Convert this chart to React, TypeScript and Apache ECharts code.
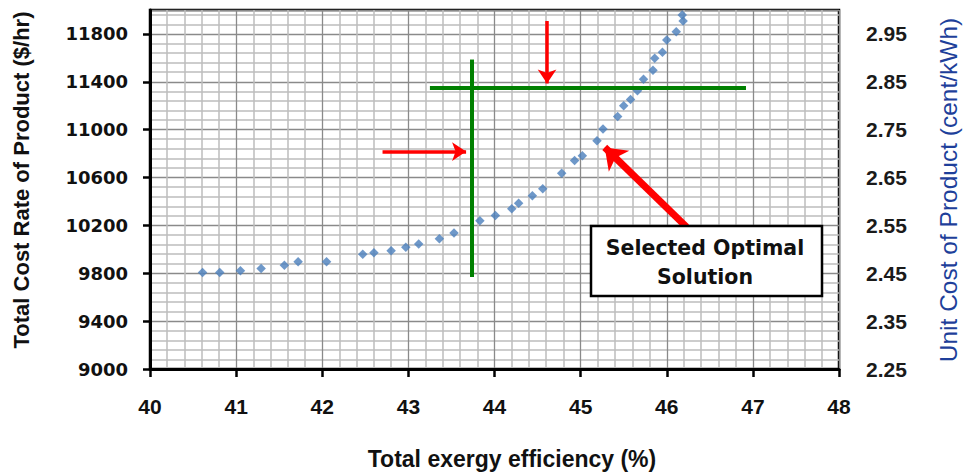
import React, { useEffect, useRef } from "react";
import * as echarts from "echarts";

// Total exergy efficiency (%)
const efficiency = [
  40.61, 40.81, 41.05, 41.29, 41.56, 41.72, 42.05, 42.47, 42.6, 42.8, 42.97,
  43.12, 43.36, 43.53, 43.83, 44.01, 44.2, 44.28, 44.44, 44.56, 44.78, 44.93,
  45.02, 45.19, 45.26, 45.43, 45.5, 45.58, 45.66, 45.73, 45.84, 45.86, 45.95,
  46.0, 46.11, 46.19, 46.18,
];
// Total cost rate of product ($/hr)
const costRate = [
  9806, 9806, 9822, 9839, 9867, 9897, 9897, 9958, 9972, 9989, 10017, 10044,
  10089, 10136, 10239, 10283, 10339, 10386, 10447, 10506, 10636, 10742, 10783,
  10908, 11006, 11111, 11200, 11252, 11325, 11422, 11497, 11597, 11647, 11750,
  11819, 11908, 11958,
];
const xTickLabels = ["40", "41", "42", "43", "44", "45", "46", "47", "48"];
const leftTickLabels = ["9000", "9400", "9800", "10200", "10600", "11000", "11400", "11800"];
const rightTickLabels = ["2.25", "2.35", "2.45", "2.55", "2.65", "2.75", "2.85", "2.95"];

// annotation lines (data coordinates)
const greenVertical = [[43.74, 9769], [43.74, 11586]];
const greenHorizontal = [[43.25, 11347], [46.92, 11347]];
const arrowRight = [[42.7, 10817], [43.67, 10817]];
const arrowDown = [[44.61, 11908], [44.61, 11386]];
const arrowDiagonal = [[46.23, 10186], [45.28, 10852]];

const boxText = ["Selected Optimal", "Solution"];

export default function App() {
  const ref = useRef<HTMLDivElement>(null);
  useEffect(() => {
    if (!ref.current) return;
    const chart = echarts.init(ref.current, null, { renderer: "svg" });
    const data = efficiency.map((x, i) => [x, costRate[i]]);
    const seg = (pts: number[][], color: string, width: number, arrow: boolean, size: number[]) => [
      { coord: pts[0], symbol: "none" },
      {
        coord: pts[1],
        symbol: arrow ? "arrow" : "none",
        symbolSize: size,
        lineStyle: { color, width, type: "solid" },
        itemStyle: { color },
      },
    ];
    chart.setOption({
      animation: false,
      backgroundColor: "#fff",
      grid: {
        left: 150,
        right: 126,
        top: 10,
        bottom: 103,
        show: true,
        borderColor: "#000",
        borderWidth: 2.5,
        backgroundColor: "transparent",
      },
      xAxis: {
        type: "value",
        min: 40,
        max: 48,
        interval: 1,
        axisLine: { show: true, onZero: false, lineStyle: { color: "#000", width: 3 } },
        axisTick: { show: true, length: 8, lineStyle: { color: "#000", width: 2.5 } },
        axisLabel: {
          margin: 27,
          fontFamily: "Liberation Sans, Arial, sans-serif",
          fontWeight: "bold",
          fontSize: 21,
          color: "#111",
          formatter: (_v: number, i: number) => xTickLabels[i] ?? "",
        },
        splitLine: { show: true, lineStyle: { color: "#8a8a8a", width: 1.3 } },
        minorTick: { show: false, splitNumber: 5 },
        minorSplitLine: { show: true, lineStyle: { color: "#bdbdbd", width: 1.5 } },
      },
      yAxis: [
        {
          type: "value",
          min: 9000,
          max: 12000,
          interval: 400,
          axisLine: { show: true, onZero: false, lineStyle: { color: "#000", width: 3 } },
          axisTick: { show: true, length: 7, lineStyle: { color: "#000", width: 2.5 } },
          axisLabel: {
            margin: 22,
            showMaxLabel: false,
            fontFamily: "DejaVu Sans, sans-serif",
            fontWeight: "bold",
            fontSize: 18,
            color: "#111",
            formatter: (_v: number, i: number) => leftTickLabels[i] ?? "",
          },
          splitLine: { show: true, lineStyle: { color: "#8a8a8a", width: 1.3 } },
          minorTick: { show: false, splitNumber: 5 },
          minorSplitLine: { show: true, lineStyle: { color: "#bdbdbd", width: 1.5 } },
        },
        {
          type: "value",
          position: "right",
          min: 9000,
          max: 12000,
          interval: 400,
          axisLine: { show: false },
          axisTick: { show: false },
          splitLine: { show: false },
          axisLabel: {
            margin: 27,
            showMaxLabel: false,
            fontFamily: "Liberation Sans, Arial, sans-serif",
            fontWeight: "bold",
            fontSize: 21,
            color: "#1a1a1a",
            formatter: (_v: number, i: number) => rightTickLabels[i] ?? "",
          },
        },
      ],
      series: [
        {
          type: "scatter",
          data,
          symbol: "diamond",
          symbolSize: 9.5,
          itemStyle: { color: "#4a7ebb" },
          z: 3,
          markLine: {
            silent: true,
            animation: false,
            label: { show: false },
            symbol: ["none", "none"],
            data: [
              seg(greenVertical, "#008000", 4, false, [0, 0]),
              seg(greenHorizontal, "#008000", 4, false, [0, 0]),
              seg(arrowRight, "#ff0000", 3.5, true, [14, 14]),
              seg(arrowDown, "#ff0000", 3.5, true, [14, 14]),
              seg(arrowDiagonal, "#ff0000", 7, true, [22, 20]),
            ],
          },
        },
      ],
      graphic: [
        {
          type: "text",
          x: 21,
          y: 180,
          rotation: Math.PI / 2,
          style: {
            text: "Total Cost Rate of Product ($/hr)",
            fontFamily: "Liberation Sans, Arial, sans-serif",
            fontWeight: "bold",
            fontSize: 22,
            fill: "#111",
            align: "center",
            verticalAlign: "middle",
          },
        },
        {
          type: "text",
          x: 948,
          y: 190,
          rotation: Math.PI / 2,
          style: {
            text: "Unit Cost of Product (cent/kWh)",
            fontFamily: "Liberation Sans, Arial, sans-serif",
            fontSize: 24.5,
            fill: "#1e3f9a",
            align: "center",
            verticalAlign: "middle",
          },
        },
        {
          type: "text",
          x: 512,
          y: 459,
          style: {
            text: "Total exergy efficiency (%)",
            fontFamily: "Liberation Sans, Arial, sans-serif",
            fontWeight: "bold",
            fontSize: 23,
            fill: "#111",
            align: "center",
            verticalAlign: "middle",
          },
        },
        {
          type: "rect",
          z: 100,
          shape: { x: 591, y: 226, width: 231, height: 70 },
          style: { fill: "#fff", stroke: "#000", lineWidth: 2.5 },
        },
        {
          type: "text",
          z: 101,
          x: 705,
          y: 262,
          style: {
            text: boxText.join("\n"),
            fontFamily: "DejaVu Sans, sans-serif",
            fontWeight: "bold",
            fontSize: 20.5,
            lineHeight: 29,
            fill: "#111",
            align: "center",
            verticalAlign: "middle",
          },
        },
      ],
    });
    return () => chart.dispose();
  }, []);
  return (
    <div
      ref={ref}
      style={{ position: "absolute", left: 0, top: 0, width: 965, height: 472 }}
    />
  );
}
